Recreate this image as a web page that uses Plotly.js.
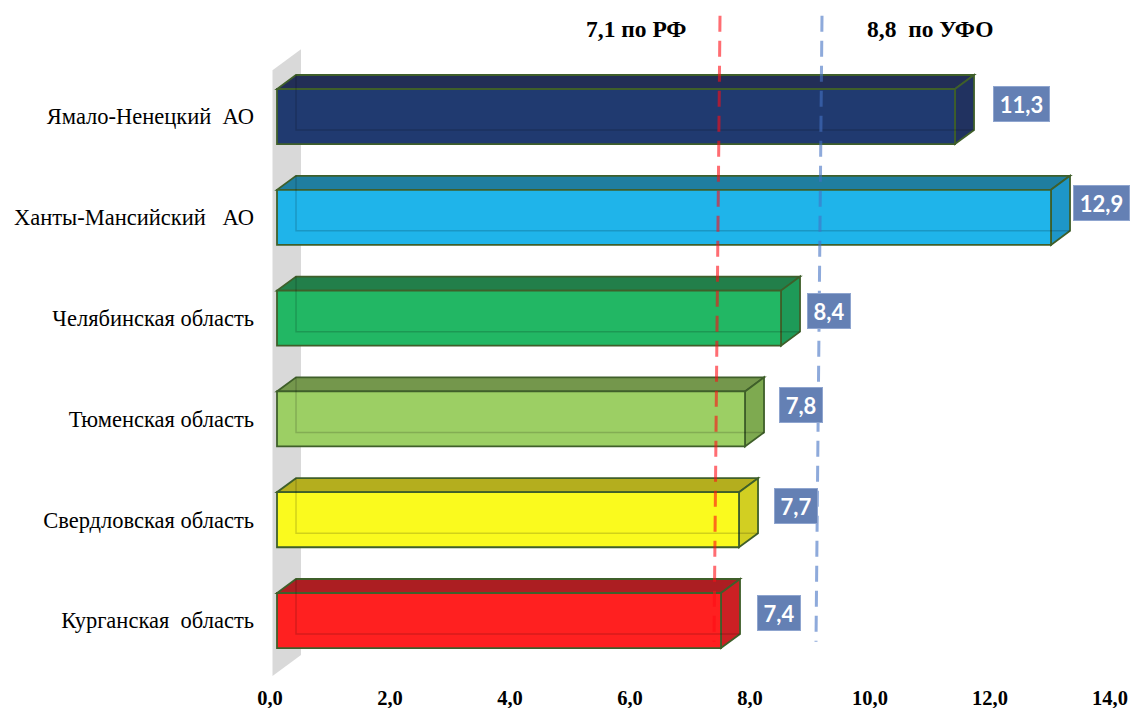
<!DOCTYPE html>
<html>
<head>
<meta charset="utf-8">
<script src="https://cdn.plot.ly/plotly-3.0.1.min.js"></script>
<style>html,body{margin:0;padding:0;background:#fff;}#chart{width:1131px;height:708px;}</style>
</head>
<body>
<div id="chart"></div>
<script>
// ---- data ----
const categories = [
  'Ямало-Ненецкий\u00A0 АО',
  'Ханты-Мансийский\u00A0\u00A0 АО',
  'Челябинская область',
  'Тюменская область',
  'Свердловская область',
  'Курганская\u00A0 область'
];
const values = [11.3, 12.9, 8.4, 7.8, 7.7, 7.4];
const refRF = 7.1;
const refUFO = 8.8;
const refRFLabel = 'по РФ';
const refUFOLabel = '\u00A0по УФО';

// ---- styles ----
const SERIF = '"Liberation Serif", "Times New Roman", "DejaVu Serif", serif';
const frontColors = ['#203a70', '#1fb4ea', '#22b764', '#9ccf64', '#fafa1e', '#ff2020'];
const topColors   = ['#222e56', '#1f7ea0', '#227f4a', '#74974c', '#b4ae1e', '#ac1e22'];
const sideColors  = ['#213260', '#1e96c8', '#1e9a58', '#7eaa50', '#d2cf22', '#cc2024'];
const edgeColor = '#3f5f2a';
const labelDx = [66, 50, 48, 56, 57, 58];   // px shift of value boxes
const labelDy = [-13, -14, -7, -14, -14, -8];
const barW = 0.546;      // bar thickness (category units)
const depthX = 0.317;    // 3D depth offset (x units)
const depthY = 0.139;    // 3D depth offset (category units)

const fmt = v => v.toFixed(1).replace('.', ',');
const n = categories.length;
const idx = categories.map((_, i) => i);

const trace = {
  type: 'bar',
  orientation: 'h',
  x: values,
  y: idx,
  width: barW,
  marker: { color: frontColors, line: { color: edgeColor, width: 1.8 } },
  hoverinfo: 'x+text',
  text: categories,
  textposition: 'none'
};

const shapes = [];
// gray side wall
const wTop = -0.46, wBot = (n - 1) + 0.55, wx0 = -0.075, wx1 = 0.40, wRise = 0.208;
shapes.push({
  type: 'path', xref: 'x', yref: 'y', layer: 'below',
  path: `M ${wx0},${wTop} L ${wx1},${wTop - wRise} L ${wx1},${wBot - wRise} L ${wx0},${wBot} Z`,
  fillcolor: '#d9d9d9', line: { width: 0 }
});
values.forEach((v, i) => {
  const yt = i - barW / 2, yb = i + barW / 2;
  shapes.push({
    type: 'path', xref: 'x', yref: 'y', layer: 'below',
    path: `M 0,${yt} L ${v},${yt} L ${v + depthX},${yt - depthY} L ${depthX},${yt - depthY} Z`,
    fillcolor: topColors[i], line: { color: edgeColor, width: 1.8 }
  });
  shapes.push({
    type: 'path', xref: 'x', yref: 'y', layer: 'below',
    path: `M ${v},${yt} L ${v + depthX},${yt - depthY} L ${v + depthX},${yb - depthY} L ${v},${yb} Z`,
    fillcolor: sideColors[i], line: { color: edgeColor, width: 1.8 }
  });
  shapes.push({
    type: 'path', xref: 'x', yref: 'y', layer: 'above',
    path: `M ${depthX},${yt - depthY} L ${depthX},${yb - depthY} L ${v + depthX},${yb - depthY}`,
    line: { color: 'rgba(0,0,0,0.16)', width: 1.5 }
  });
});
// reference lines
[[refRF, 'rgb(255,13,22)'], [refUFO, 'rgb(68,114,196)']].forEach(([rv, c]) => {
  shapes.push({
    type: 'line', xref: 'x', yref: 'y', layer: 'above',
    xsizemode: 'pixel', xanchor: rv, x0: 17, x1: 11,
    y0: -1.0, y1: (n - 1) + 0.21,
    line: { color: c, width: 3, dash: '16px,9px' }, opacity: 0.6
  });
});

const annotations = values.map((v, i) => ({
  x: v, y: i, xref: 'x', yref: 'y',
  xshift: labelDx[i], yshift: -labelDy[i],
  xanchor: 'center', yanchor: 'middle',
  text: fmt(v), showarrow: false,
  font: { family: 'Lato, "Open Sans", sans-serif', size: 22, color: '#ffffff', weight: 700 },
  bgcolor: '#6480b4', bordercolor: '#8fa5cf', borderwidth: 1, borderpad: 4,
  width: fmt(v).length > 3 ? 47 : 34, height: 26
}));
annotations.push({
  x: refRF, y: 0.972, xref: 'x', yref: 'paper', xanchor: 'right', yanchor: 'middle',
  xshift: -14, showarrow: false, text: fmt(refRF) + ' ' + refRFLabel,
  font: { family: SERIF, size: 23.5, color: '#000', weight: 700 }
});
annotations.push({
  x: refUFO, y: 0.972, xref: 'x', yref: 'paper', xanchor: 'left', yanchor: 'middle',
  xshift: 60, showarrow: false, text: fmt(refUFO) + ' ' + refUFOLabel,
  font: { family: SERIF, size: 23.5, color: '#000', weight: 700 }
});

const layout = {
  width: 1131, height: 708,
  margin: { l: 265, r: 2, t: 10, b: 26 },
  paper_bgcolor: '#ffffff', plot_bgcolor: '#ffffff',
  separators: ', ',
  showlegend: false,
  bargap: 0,
  xaxis: {
    range: [-0.2, 14.2], dtick: 2, tick0: 0, tickformat: '.1f',
    showgrid: false, zeroline: false, showline: false, ticks: '',
    ticklabelshift: -7, ticklabelstandoff: 1,
    tickfont: { family: SERIF, size: 20.5, color: '#000', weight: 700 }
  },
  yaxis: {
    range: [5.61, -1.057], tickmode: 'array', tickvals: idx, ticktext: categories,
    showgrid: false, zeroline: false, showline: false, ticks: '',
    ticklabelstandoff: 10,
    tickfont: { family: SERIF, size: 22.5, color: '#000' }
  },
  shapes: shapes,
  annotations: annotations
};

Plotly.newPlot('chart', [trace], layout, { displayModeBar: false, staticPlot: true });
</script>
</body>
</html>
